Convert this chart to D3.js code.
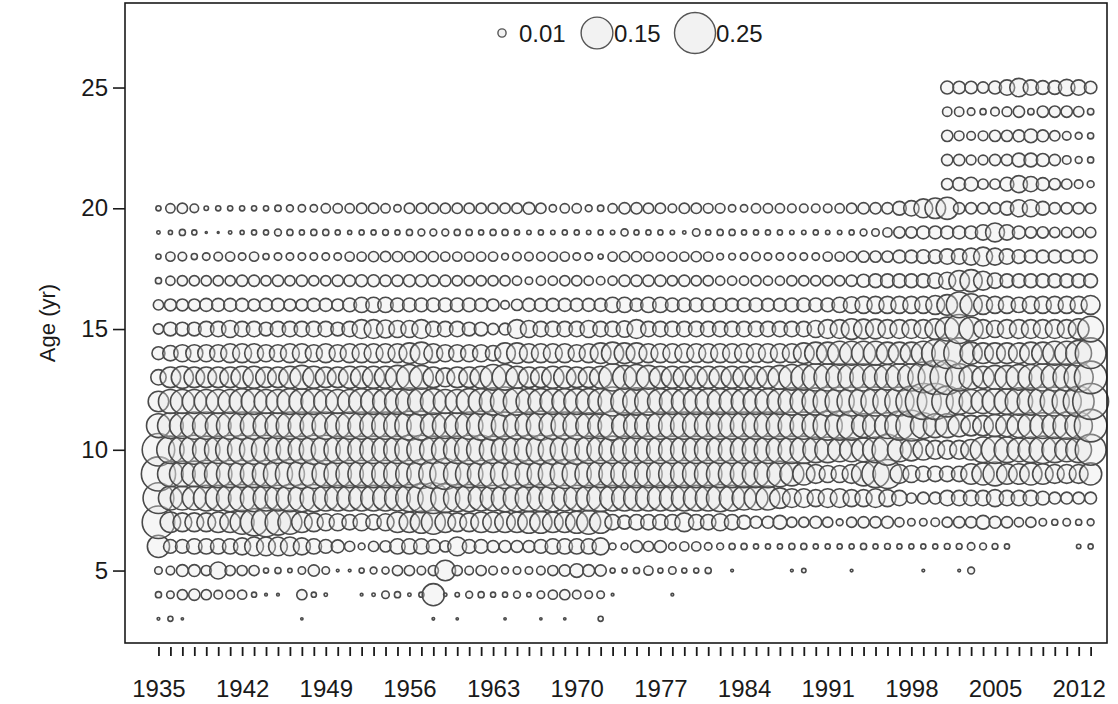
<!DOCTYPE html>
<html>
<head>
<meta charset="utf-8">
<script src="https://cdn.jsdelivr.net/npm/d3@7"></script>
<style>
  html, body { margin: 0; padding: 0; background: #fff; }
  svg { display: block; font-family: "Liberation Sans", Arial, sans-serif; }
</style>
</head>
<body>
<svg id="chart" width="1118" height="704"></svg>
<script>
// ---- categories ----
const years = d3.range(1935, 2014);            // 1935..2013
const xLabelYears = d3.range(1935, 2013, 7);   // 1935, 1942, ..., 2012
const yTicks = [5, 10, 15, 20, 25];
const legendValues = [0.01, 0.15, 0.25];

// ---- proportions at age (percent), full rows start in 1935 ----
const age20 = [0.4,1.3,1.6,1.1,0.3,0.4,0.4,0.4,0.4,0.4,0.6,0.7,0.8,0.8,1.3,1.3,1.3,1.6,1.6,1.3,
  0.8,1.6,1.6,1.6,1.6,1.6,1.6,1.6,1.6,1.6,1.6,2.1,1.6,0.8,1.3,1.3,0.7,0.6,1.3,
  1.9,1.9,1.6,1.6,1.1,1.6,1.6,1.4,1.4,0.8,0.8,1.3,1.3,1.3,1.1,1.1,1.1,1.1,1.3,1.6,
  1.9,1.9,1.9,2.8,3.5,5.3,6.3,7.3,1.9,1.9,1.9,1.9,2.8,4.3,4.3,2.8,1.9,1.9,1.9,1.6];
const age19 = [0.17,0.25,0.56,0.39,0.06,0.05,0.17,0.25,0.39,0.39,0.69,0.56,0.39,0.56,0.56,0.39,0.25,0.39,0.39,0.5,
  0.39,0.56,0.69,0.69,0.69,0.56,0.56,0.39,0.56,0.56,0.39,0.29,0.39,0.29,0.39,0.39,0.29,0.39,0.29,
  0.75,0.39,0.39,0.39,0.29,0.17,0.84,0.39,0.56,0.56,0.39,0.39,0.39,0.39,0.29,0.29,0.39,0.29,0.29,0.39,
  0.69,0.84,1.27,1.9,1.9,2.5,2.5,2.5,2.5,2.5,3.5,5.3,3.5,2.5,1.9,1.9,1.6,1.6,1.6,1.6];
const age18 = [0.39,1.27,1.09,0.56,0.84,1.09,1.27,0.84,1.27,0.56,0.84,0.84,0.84,0.84,0.84,0.84,1.27,1.27,1.56,1.6,
  1.56,1.56,1.56,1.56,1.27,1.27,1.27,1.27,1.27,0.69,1.09,1.09,1.09,1.27,1.27,0.84,0.84,0.39,1.27,
  1.56,1.56,1.27,1.09,1.27,1.27,1.56,1.27,0.69,0.69,0.84,1.09,0.84,0.84,0.84,0.84,0.84,1.27,1.27,1.56,
  1.9,1.9,1.9,2.5,2.5,2.8,2.8,3.5,3.5,4.3,5.3,4.3,3.5,2.8,2.5,2.5,2.5,2.5,2.5,2.5];
const age17 = [0.56,1.27,1.56,1.56,1.56,1.56,1.56,1.9,1.9,1.56,1.9,1.56,1.9,1.56,1.56,1.9,1.9,2.1,2.1,1.9,
  1.9,2.1,2.1,1.9,1.9,1.56,1.56,1.56,1.56,1.56,1.27,0.84,1.27,1.27,1.56,1.56,1.27,1.09,1.27,
  1.9,1.9,1.9,1.9,1.56,1.9,1.56,1.56,1.27,1.27,1.27,1.56,1.27,1.27,1.56,1.56,1.56,1.56,1.56,1.9,
  2.5,2.8,2.8,2.8,2.8,2.8,3.5,4.3,6.3,7.3,5.3,3.5,2.8,2.8,2.8,2.8,2.8,2.8,2.8,2.8];
const age16 = [1.56,2.1,2.1,2.1,2.5,2.5,2.5,2.5,2.1,2.5,2.5,2.1,2.1,2.5,2.5,2.1,2.8,3.5,3.5,3.5,
  2.8,2.8,2.8,2.8,2.8,2.8,2.8,2.5,2.1,1.09,1.9,2.5,2.5,2.5,2.5,2.5,2.5,2.5,3.5,
  3.5,2.5,3.5,3.5,2.8,2.8,2.8,2.8,2.8,2.5,2.8,2.8,2.5,2.5,2.8,2.8,2.8,2.8,3.5,4.0,
  4.3,4.3,4.3,4.3,4.3,4.3,5.3,6.3,9.8,7.3,5.3,4.3,4.3,3.5,4.3,4.3,4.3,4.3,4.3,5.3];
const age15 = [1.56,2.8,2.8,2.8,3.5,3.5,4.3,3.5,3.5,2.8,3.5,3.5,3.5,3.5,3.5,2.8,3.5,5.3,5.3,4.8,
  4.3,4.3,5.3,3.5,3.5,3.5,2.8,2.8,1.9,2.1,5.3,4.3,3.5,3.5,3.5,3.5,4.3,3.5,3.5,
  4.0,5.3,3.5,3.5,3.5,3.5,3.5,3.5,3.5,3.5,3.5,3.5,3.5,3.5,3.5,3.5,4.3,5.3,5.3,6.3,
  5.8,5.8,5.3,5.3,5.3,5.3,6.3,8.5,12.5,8.5,5.3,4.3,5.3,5.3,5.3,5.3,5.3,5.3,6.3,9.8];
const age14 = [2.5,3.5,4.3,4.3,4.3,4.3,5.3,5.3,5.3,4.3,4.3,5.3,5.3,4.3,5.3,4.3,5.3,5.3,5.3,5.3,
  5.3,6.3,7.3,5.3,4.3,4.3,4.3,4.3,3.5,6.3,6.3,5.3,5.3,5.3,5.3,4.3,5.3,6.3,7.3,
  6.3,6.3,5.3,5.3,5.3,5.3,5.3,5.3,5.3,5.3,5.3,5.3,5.3,5.3,5.3,6.3,7.3,7.3,8.5,8.5,
  8.5,8.5,7.3,7.3,7.3,8.5,11.1,14,14,7.3,6.3,6.3,6.3,6.3,7.3,7.3,8.5,8.5,9.8,14];
const age13 = [3.5,6.3,7.3,6.3,6.3,6.3,6.3,7.3,7.3,6.3,6.3,7.3,8.5,7.3,6.3,6.3,7.3,7.3,7.3,7.3,
  8.5,9.8,8.5,6.3,5.3,6.3,6.3,7.3,9.8,9.8,7.3,6.3,6.3,7.3,7.3,6.3,6.3,7.3,11.1,
  8.5,9.8,8.5,7.3,7.3,7.3,7.3,7.3,7.3,7.3,7.3,7.3,7.3,8.5,9.8,9.8,11.1,11.1,11.1,11.1,
  11.1,9.8,9.8,11.1,11.1,14,17.4,17.4,11.1,8.5,7.3,8.5,8.5,9.8,9.8,11.1,11.1,11.1,12.5,15.7];
const age12 = [6.25,8.5,8.5,8.5,8.5,8.5,8.5,9.8,9.8,8.5,8.5,9.8,9.8,9.8,8.5,8.5,8.5,9.8,9.8,9.8,
  9.8,11.1,11.1,9.8,8.5,8.5,9.8,9.8,11.1,12.5,11.1,9.8,9.8,9.8,9.8,9.8,9.8,9.8,12.5,
  11.1,11.1,11.1,9.8,9.8,9.8,9.8,9.8,9.8,9.8,9.8,9.8,9.8,9.8,11.1,11.1,11.1,12.5,12.5,12.5,
  12.5,12.5,12.5,12.5,14.1,19.1,19.1,14.1,9.8,8.5,8.5,9.8,9.8,11.1,11.1,12.5,12.5,12.5,14.1,19.1];
const age11 = [8.5,9.8,9.8,11.1,11.1,9.8,11.1,11.1,11.1,9.8,9.8,11.1,11.1,11.1,11.1,9.8,11.1,11.1,11.1,11.1,
  11.1,12.5,12.5,9.8,9.8,9.8,11.1,12.5,12.5,11.1,11.1,11.1,12.5,11.1,11.1,11.1,9.8,9.8,12.5,
  9.8,9.8,11.1,11.1,11.1,11.1,11.1,11.1,11.1,11.1,11.1,11.1,11.1,11.1,11.1,11.1,11.1,12.5,12.5,12.5,
  8.5,9.8,9.8,12.5,14.1,9.8,8.5,8.5,7.3,6.25,6.25,7.3,7.3,8.5,9.8,9.8,9.8,11.1,11.1,15.7];
const age10 = [15.7,11.1,11.1,12.5,11.1,11.1,12.5,12.5,12.5,12.5,11.1,11.1,11.1,12.5,12.5,11.1,11.1,11.1,11.1,11.1,
  11.1,12.5,12.5,11.1,11.1,11.1,12.5,12.5,11.1,11.1,12.5,12.5,12.5,12.5,12.5,12.5,11.1,11.1,11.1,
  11.1,11.1,11.1,11.1,11.1,11.1,11.1,11.1,11.1,11.1,11.1,11.1,11.1,11.1,11.1,11.1,9.8,9.8,8.5,8.5,
  8.5,9.8,14.1,8.5,7.3,6.25,5.25,5.25,5.25,6.25,9.8,11.1,9.8,8.5,9.8,11.1,9.8,8.5,9.8,14.1];
const age9 = [17.4,9.8,9.8,9.8,11.1,11.1,11.1,11.1,11.1,11.1,12.5,12.5,12.5,12.5,11.1,11.1,11.1,11.1,11.1,11.1,
  11.1,11.1,12.5,12.5,14.1,11.1,11.1,11.1,12.5,12.5,12.5,11.1,11.1,12.5,12.5,12.5,11.1,11.1,11.1,
  11.1,11.1,11.1,11.1,11.1,11.1,11.1,11.1,11.1,11.1,11.1,11.1,11.1,9.8,8.5,7.3,5.25,4.3,4.3,5.25,
  8.5,11.1,12.5,5.25,4.3,3.5,3.5,3.5,3.5,6.25,7.3,8.5,6.25,6.25,7.3,6.25,5.25,5.25,5.25,7.3];
const age8 = [14.1,8.5,8.5,8.5,9.8,9.8,11.1,11.1,11.1,9.8,9.8,11.1,11.1,11.1,9.8,9.8,9.8,9.8,9.8,9.8,
  9.8,11.1,12.5,14.1,12.5,11.1,11.1,9.8,9.8,11.1,11.1,11.1,11.1,11.1,9.8,9.8,9.8,11.1,9.8,
  9.8,9.8,9.8,9.8,9.8,9.8,9.8,9.8,11.1,9.8,8.5,8.5,8.5,6.25,5.25,5.25,4.3,5.25,5.25,4.3,
  4.3,5.25,4.3,3.5,1.56,2.1,2.1,3.5,3.5,3.5,3.5,4.3,3.5,3.5,3.5,2.8,2.1,2.1,2.1,2.1];
const age7 = [15.7,6.25,5.25,5.25,5.25,6.25,6.25,8.5,11.1,12.5,9.8,8.5,6.25,5.25,4.3,4.3,3.5,4.3,3.5,4.3,
  6.25,6.25,7.3,8.5,6.25,5.25,5.25,6.25,6.25,6.25,6.25,7.3,7.3,6.25,6.25,7.3,8.5,7.3,3.5,
  2.8,3.5,3.5,3.5,3.5,5.25,3.5,3.5,4.3,3.5,2.8,2.1,2.1,2.8,1.56,1.56,2.1,1.56,0.69,1.56,
  1.9,1.9,2.1,1.27,0.84,0.84,1.09,1.56,1.9,1.9,2.8,2.1,1.9,1.27,1.56,0.84,0.56,0.84,0.56,0.69];
const age6 = [7.3,2.8,2.8,3.5,3.5,3.5,3.5,4.3,5.25,5.25,5.25,5.25,4.3,3.5,2.8,2.5,1.56,0.69,1.56,1.9,
  3.5,3.5,3.5,2.8,1.9,5.25,2.8,2.8,2.1,2.1,2.1,2.1,2.8,3.5,3.5,3.5,3.5,4.3,0.69,
  0.69,2.1,1.56,2.1,0.84,1.27,1.27,0.84,0.69,0.56,0.56,0.39,0.39,0.39,0.56,0.56,0.39,0.39,0.39,0.39,
  0.56,0.39,0.5,0.39,0.39,0.39,0.39,0.5,0.5,0.84,0.69,0.5,0.39,0,0,0,0,0,0.29,0.39];

// ---- older ages, sampled only from 2001 ----
const age21 = [1.9,2.5,2.8,1.6,1.6,2.8,4.3,3.5,2.5,1.9,1.6,1.1,0.7];
const age22 = [1.9,1.9,1.4,1.4,1.9,1.9,2.8,2.8,2.5,1.9,1.1,0.7,0.56];
const age23 = [1.9,1.4,1.1,1.4,1.9,1.9,2.1,2.8,2.1,1.6,1.1,0.7,0.56];
const age24 = [1.3,1.3,0.85,0.56,1.1,1.4,1.9,0.6,1.9,1.9,1.9,1.6,0.6];
const age25 = [2.5,2.3,2.3,1.9,2.5,3.5,5.0,3.5,2.8,2.8,4.0,3.5,2.3];

// ---- young ages, sparse [year, percent] ----
const age5 = [[1935,0.84],[1936,1.09],[1937,2.1],[1938,2.1],[1939,1.56],[1940,4.3],[1941,1.56],[1942,1.56],
  [1943,1.56],[1944,0.39],[1945,0.56],[1946,0.29],[1947,0.84],[1948,1.9],[1949,0.84],[1950,0.11],[1951,0.11],
  [1952,0.39],[1953,0.69],[1954,0.75],[1955,1.56],[1956,1.56],[1957,1.09],[1958,1.56],[1959,6.25],[1960,1.56],
  [1961,1.09],[1962,1.56],[1963,1.09],[1964,0.69],[1965,0.84],[1966,0.84],[1967,1.09],[1968,1.56],[1969,1.9],
  [1970,2.8],[1971,2.1],[1972,1.9],[1973,0.39],[1974,0.39],[1975,0.56],[1976,1.27],[1977,0.39],[1978,0.84],
  [1979,0.39],[1980,0.39],[1981,0.56],[1983,0.11],[1988,0.11],[1989,0.29],[1993,0.11],[1999,0.11],[2002,0.11],[2003,0.69]];
const age4 = [[1935,0.56],[1936,0.84],[1937,1.56],[1938,1.9],[1939,1.56],[1940,1.09],[1941,1.09],[1942,1.27],
  [1943,0.39],[1944,0.11],[1945,0.11],[1947,1.56],[1948,0.39],[1949,0.17],[1952,0.11],[1953,0.17],[1954,0.84],
  [1955,0.56],[1956,0.17],[1957,0.39],[1958,7.3],[1959,0.17],[1960,0.29],[1961,0.69],[1962,0.56],[1963,0.39],
  [1964,0.39],[1965,0.69],[1966,0.29],[1967,0.84],[1968,1.27],[1969,1.56],[1970,1.09],[1971,0.84],[1972,0.84],
  [1973,0.11],[1978,0.11]];
const age3 = [[1935,0.11],[1936,0.39],[1937,0.08],[1947,0.08],[1958,0.1],[1960,0.08],[1964,0.08],
  [1967,0.08],[1969,0.08],[1972,0.39]];

// ---- assemble records ----
const fullRows = [[6,age6],[7,age7],[8,age8],[9,age9],[10,age10],[11,age11],[12,age12],[13,age13],
  [14,age14],[15,age15],[16,age16],[17,age17],[18,age18],[19,age19],[20,age20]];
const lateRows = [[21,age21],[22,age22],[23,age23],[24,age24],[25,age25]];
const sparseRows = [[3,age3],[4,age4],[5,age5]];

const points = [];
fullRows.forEach(([age, vals]) => vals.forEach((v, i) => { if (v > 0) points.push({year: years[i], age, p: v / 100}); }));
lateRows.forEach(([age, vals]) => vals.forEach((v, i) => { if (v > 0) points.push({year: 2001 + i, age, p: v / 100}); }));
sparseRows.forEach(([age, pairs]) => pairs.forEach(([yr, v]) => points.push({year: yr, age, p: v / 100})));
points.sort((a, b) => a.year - b.year || a.age - b.age);

// ---- layout ----
const svg = d3.select("#chart");
const plotL = 125, plotR = 1107, plotT = 3, plotB = 643;
const x = d3.scaleLinear().domain([1932.2, 2014.37]).range([plotL, plotR]);
const y = d3.scaleLinear().domain([2, 28.5]).range([plotB, plotT]);
const r = d3.scaleSqrt().domain([0, 0.25]).range([0, 20.5]);

const fontFam = '"Liberation Sans", Arial, sans-serif';

// bubbles
svg.append("g").selectAll("circle").data(points).join("circle")
  .attr("cx", d => x(d.year)).attr("cy", d => y(d.age)).attr("r", d => r(d.p))
  .attr("fill", "rgba(228,228,228,0.35)")
  .attr("stroke", "#4a4a4a").attr("stroke-width", 1.6);

// box
svg.append("rect").attr("x", plotL).attr("y", plotT).attr("width", plotR - plotL).attr("height", plotB - plotT)
  .attr("fill", "none").attr("stroke", "#1a1a1a").attr("stroke-width", 1.6);

// y axis
const yAxis = svg.append("g").attr("transform", `translate(${plotL},0)`)
  .call(d3.axisLeft(y).tickValues(yTicks).tickSize(12).tickPadding(5).tickFormat(d3.format("d")));
yAxis.select(".domain").remove();
yAxis.selectAll("line").attr("stroke", "#1a1a1a").attr("stroke-width", 1.6);
yAxis.selectAll("text").attr("font-size", 24).attr("font-family", fontFam).attr("fill", "#1a1a1a");

// x axis
const xAxis = svg.append("g").attr("transform", "translate(0,647)")
  .call(d3.axisBottom(x).tickValues(years).tickSize(9).tickPadding(33)
    .tickFormat(d => xLabelYears.includes(d) ? String(d) : ""));
xAxis.select(".domain").remove();
xAxis.selectAll("line").attr("stroke", "#1a1a1a").attr("stroke-width", 1.8);
xAxis.selectAll("text").attr("font-size", 24).attr("font-family", fontFam).attr("fill", "#1a1a1a")
  .attr("dy", null).attr("y", 50);

// y title
svg.append("text").attr("transform", "translate(55,323) rotate(-90)")
  .attr("text-anchor", "middle").attr("font-size", 22).attr("font-family", fontFam)
  .attr("fill", "#1a1a1a").text("Age (yr)");

// legend
const legendX = [502, 597, 695];
const legendTextX = [519, 614, 716];
const lg = svg.append("g");
legendValues.forEach((v, i) => {
  lg.append("circle").attr("cx", legendX[i]).attr("cy", 33).attr("r", r(v))
    .attr("fill", "#f2f2f2").attr("stroke", "#555").attr("stroke-width", 1.4);
  lg.append("text").attr("x", legendTextX[i]).attr("y", 42).attr("font-size", 24)
    .attr("font-family", fontFam).attr("fill", "#1a1a1a").text(String(v));
});
</script>
</body>
</html>
